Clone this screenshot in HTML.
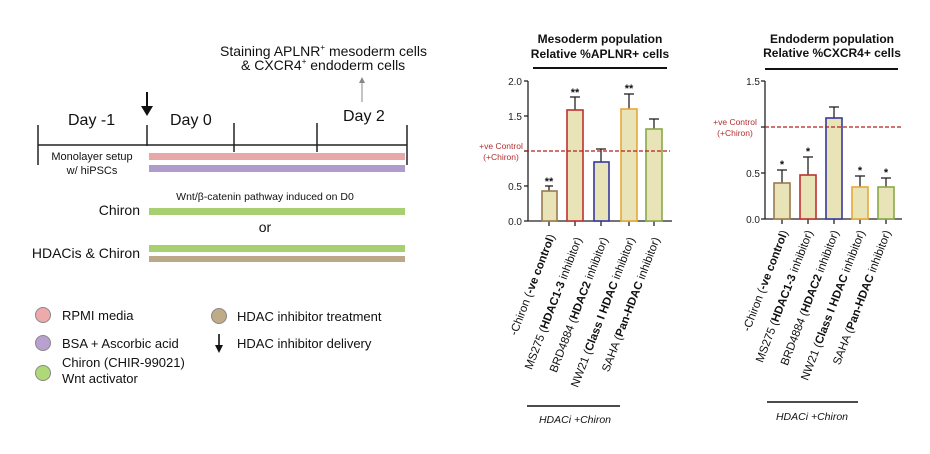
<!DOCTYPE html>
<html><head><meta charset="utf-8"><style>body{margin:0;background:#fff}svg{display:block}text{font-family:"Liberation Sans",Arial,sans-serif}</style></head>
<body>
<svg width="930" height="454" viewBox="0 0 930 454" xmlns="http://www.w3.org/2000/svg">
<g fill="#111">
<text x="220" y="56" font-size="14">Staining APLNR<tspan font-size="8" dy="-6">+</tspan><tspan dy="6"> mesoderm cells</tspan></text>
<text x="241" y="70" font-size="14">&amp; CXCR4<tspan font-size="8" dy="-6">+</tspan><tspan dy="6"> endoderm cells</tspan></text>
<text x="68" y="125" font-size="16">Day -1</text>
<text x="170" y="125" font-size="16">Day 0</text>
<text x="343" y="121" font-size="16">Day 2</text>
<text x="92" y="160" font-size="11" text-anchor="middle">Monolayer setup</text>
<text x="92" y="174" font-size="11" text-anchor="middle">w/ hiPSCs</text>
<text x="265" y="200" font-size="10.5" text-anchor="middle">Wnt/β-catenin pathway induced on D0</text>
<text x="140" y="215" font-size="14" text-anchor="end">Chiron</text>
<text x="265" y="232" font-size="14" text-anchor="middle">or</text>
<text x="140" y="258" font-size="14" text-anchor="end">HDACis &amp; Chiron</text>
</g>
<line x1="362" y1="102" x2="362" y2="80" stroke="#888" stroke-width="1"/>
<path d="M359,83 L362,77 L365,83Z" fill="#888"/>
<line x1="147" y1="92" x2="147" y2="108" stroke="#111" stroke-width="2"/>
<path d="M141,106 L153,106 L147,116Z" fill="#111"/>
<g stroke="#222" stroke-width="1.5">
<line x1="38" y1="145" x2="407" y2="145"/>
<line x1="38" y1="125" x2="38" y2="165"/>
<line x1="147" y1="125" x2="147" y2="146"/>
<line x1="234" y1="123" x2="234" y2="152"/>
<line x1="317" y1="123" x2="317" y2="152"/>
<line x1="407" y1="125" x2="407" y2="165"/>
</g>
<rect x="149" y="153" width="256" height="7" fill="#e8a8a8"/>
<rect x="149" y="165" width="256" height="7" fill="#b09ccc"/>
<rect x="149" y="208" width="256" height="7" fill="#a8d070"/>
<rect x="149" y="245" width="256" height="7" fill="#a8d070"/>
<rect x="149" y="256" width="256" height="6" fill="#bba888"/>
<g stroke="#888" stroke-width="1">
<circle cx="43" cy="315" r="7.5" fill="#eeaaaa"/>
<circle cx="43" cy="343" r="7.5" fill="#b8a0d0"/>
<circle cx="43" cy="373" r="7.5" fill="#b0d878"/>
<circle cx="219" cy="316" r="7.5" fill="#c0ab88"/>
</g>
<line x1="219" y1="334" x2="219" y2="347" stroke="#111" stroke-width="1.6"/>
<path d="M215,345 L223,345 L219,353Z" fill="#111"/>
<g fill="#111" font-size="13">
<text x="62" y="320">RPMI media</text>
<text x="62" y="348">BSA + Ascorbic acid</text>
<text x="62" y="367">Chiron (CHIR-99021)</text>
<text x="62" y="383">Wnt activator</text>
<text x="237" y="321">HDAC inhibitor treatment</text>
<text x="237" y="348">HDAC inhibitor delivery</text>
</g>

<g fill="#111" font-size="12" font-weight="bold" text-anchor="middle">
<text x="600" y="43">Mesoderm population</text>
<text x="600" y="58">Relative %APLNR+ cells</text>
</g>
<line x1="533" y1="68" x2="667" y2="68" stroke="#111" stroke-width="2"/>
<g stroke="#222" stroke-width="1.3">
<line x1="528" y1="81" x2="528" y2="221"/>
<line x1="528" y1="221" x2="672" y2="221"/>
<line x1="524" y1="81" x2="528" y2="81"/><line x1="524" y1="116" x2="528" y2="116"/><line x1="524" y1="151" x2="528" y2="151"/><line x1="524" y1="186" x2="528" y2="186"/><line x1="524" y1="221" x2="528" y2="221"/>
<line x1="549" y1="221" x2="549" y2="226"/><line x1="575" y1="221" x2="575" y2="226"/><line x1="601" y1="221" x2="601" y2="226"/><line x1="629" y1="221" x2="629" y2="226"/><line x1="654" y1="221" x2="654" y2="226"/>
</g>
<g fill="#222" font-size="10" text-anchor="end">
<text x="522" y="85">2.0</text><text x="522" y="120">1.5</text><text x="522" y="190">0.5</text><text x="522" y="225">0.0</text>
</g>
<g stroke="#222" stroke-width="1.3">
<line x1="549" y1="191" x2="549" y2="186"/><line x1="545" y1="186" x2="553" y2="186"/>
<line x1="575" y1="110" x2="575" y2="97"/><line x1="570" y1="97" x2="580" y2="97"/>
<line x1="601" y1="162" x2="601" y2="149"/><line x1="596" y1="149" x2="606" y2="149"/>
<line x1="629" y1="109" x2="629" y2="94"/><line x1="624" y1="94" x2="634" y2="94"/>
<line x1="654" y1="129" x2="654" y2="119"/><line x1="649" y1="119" x2="659" y2="119"/>
</g>
<g fill="#e8e4b8" stroke-width="1.6">
<rect x="542" y="191" width="15" height="30" stroke="#9a7a50"/>
<rect x="567" y="110" width="16" height="111" stroke="#c03030"/>
<rect x="594" y="162" width="15" height="59" stroke="#3838a0"/>
<rect x="621" y="109" width="16" height="112" stroke="#e8a838"/>
<rect x="646" y="129" width="16" height="92" stroke="#88a848"/>
</g>
<line x1="525" y1="151" x2="670" y2="151" stroke="#b02020" stroke-width="1.3" stroke-dasharray="4,2"/>
<g fill="#b03030" font-size="8.5" text-anchor="middle"><text x="501" y="149">+ve Control</text><text x="501" y="160">(+Chiron)</text></g>
<g fill="#111" font-size="11" text-anchor="middle" font-weight="bold"><text x="549" y="185">**</text><text x="575" y="96">**</text><text x="629" y="92">**</text></g>
<g fill="#111" font-size="11.5" text-anchor="end">
<text transform="translate(555,236) rotate(-69)">-Chiron (<tspan font-weight="bold">-ve control</tspan>)</text>
<text transform="translate(582,239) rotate(-69)">MS275 (<tspan font-weight="bold">HDAC1-3</tspan> inhibitor)</text>
<text transform="translate(608,239) rotate(-69)">BRD4884 (<tspan font-weight="bold">HDAC2</tspan> inhibitor)</text>
<text transform="translate(635,239) rotate(-69)">NW21 (<tspan font-weight="bold">Class I HDAC</tspan> inhibitor)</text>
<text transform="translate(660,239) rotate(-69)">SAHA (<tspan font-weight="bold">Pan-HDAC</tspan> inhibitor)</text>
</g>
<line x1="527" y1="406" x2="620" y2="406" stroke="#111" stroke-width="1.5"/>
<text x="575" y="423" font-size="10.5" font-style="italic" text-anchor="middle" fill="#111">HDACi +Chiron</text>

<g fill="#111" font-size="12" font-weight="bold" text-anchor="middle">
<text x="832" y="43">Endoderm population</text>
<text x="832" y="57">Relative %CXCR4+ cells</text>
</g>
<line x1="765" y1="69" x2="898" y2="69" stroke="#111" stroke-width="2"/>
<g stroke="#222" stroke-width="1.3">
<line x1="765" y1="81" x2="765" y2="219"/>
<line x1="765" y1="219" x2="902" y2="219"/>
<line x1="761" y1="81" x2="765" y2="81"/><line x1="761" y1="127" x2="765" y2="127"/><line x1="761" y1="173" x2="765" y2="173"/><line x1="761" y1="219" x2="765" y2="219"/>
<line x1="782" y1="219" x2="782" y2="224"/><line x1="808" y1="219" x2="808" y2="224"/><line x1="834" y1="219" x2="834" y2="224"/><line x1="860" y1="219" x2="860" y2="224"/><line x1="886" y1="219" x2="886" y2="224"/>
</g>
<g fill="#222" font-size="10" text-anchor="end">
<text x="760" y="85">1.5</text><text x="760" y="177">0.5</text><text x="760" y="223">0.0</text>
</g>
<g stroke="#222" stroke-width="1.3">
<line x1="782" y1="183" x2="782" y2="170"/><line x1="777" y1="170" x2="787" y2="170"/>
<line x1="808" y1="175" x2="808" y2="157"/><line x1="803" y1="157" x2="813" y2="157"/>
<line x1="834" y1="118" x2="834" y2="107"/><line x1="829" y1="107" x2="839" y2="107"/>
<line x1="860" y1="187" x2="860" y2="176"/><line x1="855" y1="176" x2="865" y2="176"/>
<line x1="886" y1="187" x2="886" y2="178"/><line x1="881" y1="178" x2="891" y2="178"/>
</g>
<g fill="#e8e4b8" stroke-width="1.6">
<rect x="774" y="183" width="16" height="36" stroke="#9a7a50"/>
<rect x="800" y="175" width="16" height="44" stroke="#c03030"/>
<rect x="826" y="118" width="16" height="101" stroke="#3838a0"/>
<rect x="852" y="187" width="16" height="32" stroke="#e8a838"/>
<rect x="878" y="187" width="16" height="32" stroke="#88a848"/>
</g>
<line x1="765" y1="127" x2="902" y2="127" stroke="#b02020" stroke-width="1.3" stroke-dasharray="4,2"/>
<g fill="#b03030" font-size="8.5" text-anchor="middle"><text x="735" y="125">+ve Control</text><text x="735" y="136">(+Chiron)</text></g>
<g fill="#111" font-size="11" text-anchor="middle" font-weight="bold"><text x="782" y="168">*</text><text x="808" y="155">*</text><text x="860" y="174">*</text><text x="886" y="176">*</text></g>
<g fill="#111" font-size="11.5" text-anchor="end">
<text transform="translate(788,232) rotate(-69)">-Chiron (<tspan font-weight="bold">-ve control</tspan>)</text>
<text transform="translate(813,232) rotate(-69)">MS275 (<tspan font-weight="bold">HDAC1-3</tspan> inhibitor)</text>
<text transform="translate(839,232) rotate(-69)">BRD4884 (<tspan font-weight="bold">HDAC2</tspan> inhibitor)</text>
<text transform="translate(865,232) rotate(-69)">NW21 (<tspan font-weight="bold">Class I HDAC</tspan> inhibitor)</text>
<text transform="translate(891,232) rotate(-69)">SAHA (<tspan font-weight="bold">Pan-HDAC</tspan> inhibitor)</text>
</g>
<line x1="767" y1="402" x2="858" y2="402" stroke="#111" stroke-width="1.5"/>
<text x="812" y="420" font-size="10.5" font-style="italic" text-anchor="middle" fill="#111">HDACi +Chiron</text>
</svg>
</body></html>
